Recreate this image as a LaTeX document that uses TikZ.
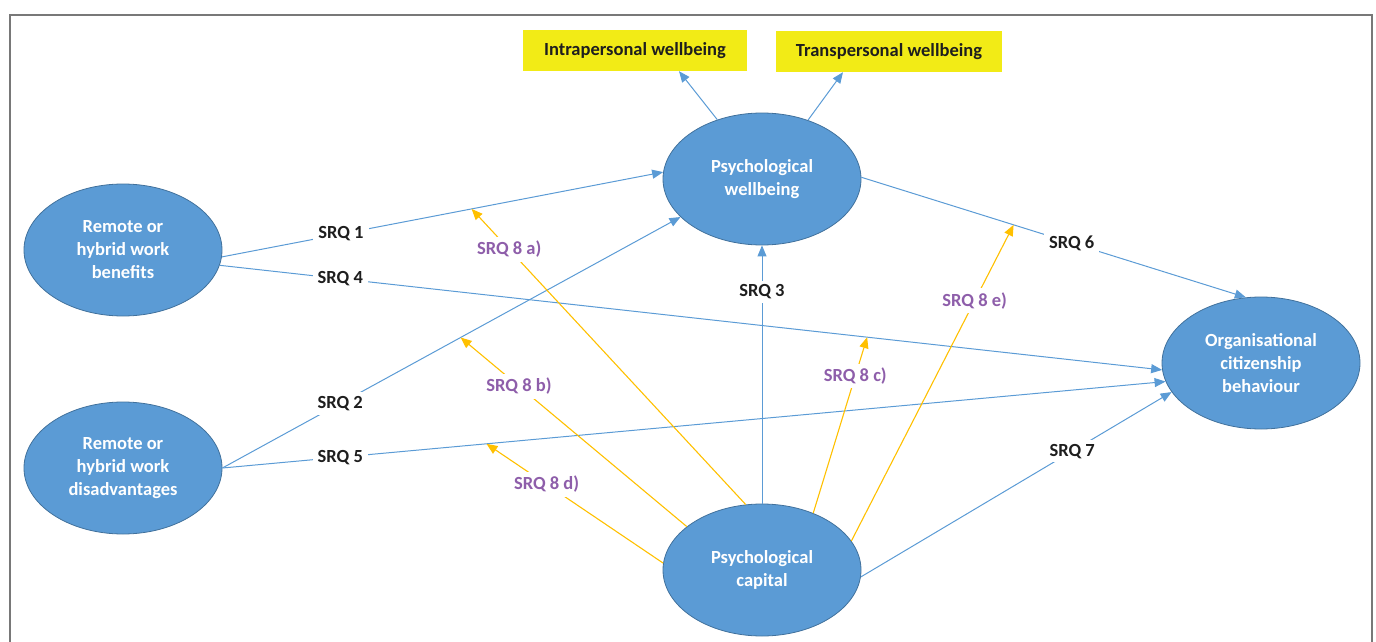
\documentclass[tikz,border=0pt]{standalone}
\usepackage{fontspec}
\setmainfont{Carlito}
\usetikzlibrary{shapes.geometric,arrows.meta,calc}
\definecolor{nodeblue}{RGB}{91,155,213}
\definecolor{nodeedge}{RGB}{65,113,156}
\definecolor{boxyellow}{RGB}{242,235,22}
\definecolor{modgold}{RGB}{255,192,0}
\definecolor{modpurple}{RGB}{142,94,170}
\definecolor{framegray}{RGB}{120,120,120}
\definecolor{labelink}{RGB}{30,30,30}

\begin{document}
\begin{tikzpicture}[x=1pt,y=-1pt,
  txt/.style={font=\fontsize{18.5}{23}\selectfont\bfseries},
  construct/.style={ellipse, fill=nodeblue, draw=nodeedge, line width=0.8pt,
    minimum width=198pt, minimum height=132pt, inner sep=0pt,
    align=center, text=white, txt},
  facet/.style={rectangle, fill=boxyellow, minimum height=41pt, inner sep=0pt,
    text=labelink, txt},
  link/.style={draw=nodeblue, line width=1pt, -{Triangle[length=11pt,width=9pt]}},
  moderation/.style={draw=modgold, line width=1.1pt, -{Triangle[length=11pt,width=9pt]}},
  srq/.style={fill=white, inner xsep=5pt, inner ysep=4pt, text=labelink, txt},
  srqmod/.style={srq, text=modpurple}
]
\useasboundingbox (0,0) rectangle (1376,642);

% outer frame (open at the bottom edge of the page)
\draw[framegray, line width=1.2pt] (10,645) -- (10,15) -- (1372,15) -- (1372,645);

% constructs
\node[construct] (ben) at (123,250) {Remote or\\hybrid work\\benefits};
\node[construct] (dis) at (123,468) {Remote or\\hybrid work\\disadvantages};
\node[construct] (pwb) at (762,179) {Psychological\\wellbeing};
\node[construct] (pcap) at (762,570) {Psychological\\capital};
\node[construct] (ocb) at (1261,363) {Organisational\\citizenship\\behaviour};

% wellbeing facets
\node[facet, minimum width=224pt] (intra) at (635,50.5) {Intrapersonal wellbeing};
\node[facet, minimum width=226pt] (trans) at (889,51.5) {Transpersonal wellbeing};

\draw[link] (pwb.127.5) -- ([xshift=44pt]intra.south);
\draw[link] (pwb.52) -- ([xshift=-46pt]trans.south);

% direct relationships
\draw[link] (ben.-4.7) -- node[srq, pos=0.27] {SRQ 1} coordinate[pos=0.566] (m8a) (pwb.176);
\draw[link] (ben.-9.5) -- node[srq, pos=0.128] {SRQ 4} coordinate[pos=0.687] (m8c) (ocb.184);
\draw[link] (dis.east) -- node[srq, pos=0.257] {SRQ 2} coordinate[pos=0.52] (m8b) (pwb.205);
\draw[link] (dis.east) -- node[srq, pos=0.125] {SRQ 5} coordinate[pos=0.28] (m8d) (ocb.191);
\draw[link] (pcap.north) -- node[srq, pos=0.82] {SRQ 3} (pwb.south);
\draw[link] (pwb.1) -- node[srq, pos=0.547] {SRQ 6} coordinate[pos=0.396] (m8e) (ocb.103);
\draw[link] (pcap.-4) -- node[srq, pos=0.68] {SRQ 7} (ocb.198);

% moderating effects of psychological capital
\draw[moderation] (pcap.104.4) -- node[srqmod, pos=0.863] {SRQ 8 a)} (m8a);
\draw[moderation] (pcap.150) -- node[srqmod, pos=0.742] {SRQ 8 b)} (m8b);
\draw[moderation] (pcap.48.7) -- node[srqmod, pos=0.78] {SRQ 8 c)} (m8c);
\draw[moderation] (pcap.176.5) -- node[srqmod, pos=0.66] {SRQ 8 d)} (m8d);
\draw[moderation] (pcap.18.6) -- node[srqmod, pos=0.76] {SRQ 8 e)} (m8e);
\end{tikzpicture}
\end{document}
